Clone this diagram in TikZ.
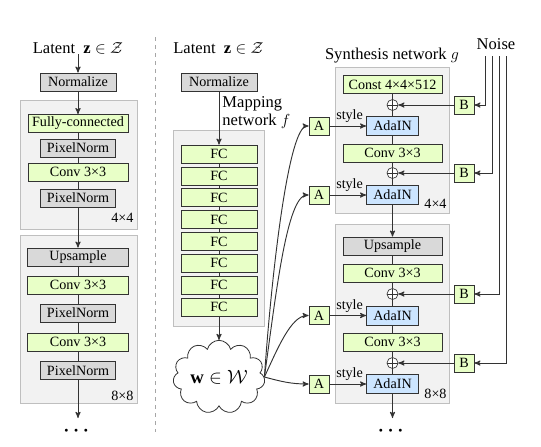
\documentclass[tikz,border=0pt]{standalone}
\usepackage{amsmath}
\usepackage{fontspec}
\setmainfont{Liberation Serif}
\usepackage{tikz}
\usetikzlibrary{calc, math}
\usetikzlibrary{arrows}
\usetikzlibrary{shapes.symbols}
\definecolor{blockcolor}{gray}{0.95}
\definecolor{blockedge}{gray}{0.75}
\definecolor{normcolor}{gray}{0.85}
\definecolor{convcolor}{rgb}{0.91,1,0.78}
\definecolor{adacolor}{rgb}{0.8,0.9,1}
\definecolor{linecolor}{gray}{0.2}

\begin{document}
\begin{tikzpicture}[x=0.75pt, y=-0.75pt, >=stealth', line width=0.7pt,
  font=\fontsize{10.6}{13}\selectfont,
  box/.style={draw=linecolor, line width=0.5pt, inner sep=0pt, minimum height=13.5pt},
  normbox/.style={box, fill=normcolor},
  convbox/.style={box, fill=convcolor},
  adabox/.style={box, fill=adacolor, minimum width=39pt, minimum height=14pt},
  tinybox/.style={convbox, minimum width=15pt},
  block/.style={draw=blockedge, fill=blockcolor},
  flow/.style={draw=linecolor},
  plus/.style={circle, draw=linecolor, line width=0.5pt, fill=white, inner sep=0pt, minimum size=8.25pt,
    path picture={\draw[linecolor, line width=0.5pt]
      (path picture bounding box.north) -- (path picture bounding box.south)
      (path picture bounding box.west) -- (path picture bounding box.east);}},
  title/.style={inner sep=0pt, anchor=base, font=\fontsize{12.4}{13.5}\selectfont},
  etc/.style={font=\fontsize{15}{15}\selectfont, inner sep=0pt}]
  \tikzmath{
    \xl=78;
    \xm=219;
    \xs=392.5;
    \xa=319;
    \xb=464;
  }
  \useasboundingbox (0,0) rectangle (541,446);

  % Traditional generator
  \draw[block] (20,100) rectangle (137,229);
  \draw[block] (20,235) rectangle (137,403);
  \node[title] (latl) at (\xl,53) {Latent\enspace$\mathbf{z}\in\mathcal{Z}$};
  \node[normbox, minimum width=57pt] (norml) at (\xl,82) {Normalize};
  \node[convbox, minimum width=75pt] (fcl) at (\xl,123.5) {Fully-connected};
  \node[normbox, minimum width=56pt] (pnl1) at (\xl,148) {PixelNorm};
  \node[convbox, minimum width=75pt] (convl1) at (\xl,172) {Conv 3×3};
  \node[normbox, minimum width=56pt] (pnl2) at (\xl,198) {PixelNorm};
  \node[normbox, minimum width=76pt] (upl) at (\xl,257) {Upsample};
  \node[convbox, minimum width=76pt] (convl2) at (\xl,285) {Conv 3×3};
  \node[normbox, minimum width=56pt] (pnl3) at (\xl,313) {PixelNorm};
  \node[convbox, minimum width=76pt] (convl3) at (\xl,342) {Conv 3×3};
  \node[normbox, minimum width=56pt] (pnl4) at (\xl,370.5) {PixelNorm};
  \coordinate (endl) at (\xl,418);
  \node[etc] (dotsl) at (\xl,431) {$\boldsymbol{\cdots}$};
  \node[inner sep=0pt, anchor=base east] (resl1) at (134,222) {4×4};
  \node[inner sep=0pt, anchor=base east] (resl2) at (134,400) {8×8};

  \draw[flow,->] (latl) -- (norml);
  \draw[flow,->] (norml) -- (fcl);
  \draw[flow] (fcl) -- (pnl1) (pnl1) -- (convl1) (convl1) -- (pnl2);
  \draw[flow,->] (pnl2) -- (upl);
  \draw[flow] (upl) -- (convl2) (convl2) -- (pnl3) (pnl3) -- (convl3) (convl3) -- (pnl4);
  \draw[flow,->] (pnl4) -- (endl);

  \draw[dashed, gray!70, line width=0.6pt] (155,37) -- (155,432);

  % Mapping network
  \draw[block] (173,130) rectangle (264,326);
  \node[title] (latm) at (218.5,53) {Latent\enspace$\mathbf{z}\in\mathcal{Z}$};
  \node[normbox, minimum width=57pt] (normm) at (\xm,82) {Normalize};
  \node[anchor=north west, align=left, inner sep=0pt, font=\fontsize{12.4}{13.5}\selectfont]
    (mapname) at (222,96) {Mapping\\network $f$};
  \foreach \i in {1,...,8}
    \node[convbox, minimum width=57pt] (fc\i) at (\xm,{154+21.86*(\i-1)}) {FC};
  \foreach \i [remember=\i as \j (initially 1)] in {2,...,8}
    \draw[flow] (fc\j) -- (fc\i);
  \node[cloud, cloud puffs=11, aspect=1.4, draw=linecolor, fill=white, inner sep=0pt,
    line width=0.6pt, minimum width=69pt, minimum height=52pt, font=\fontsize{14}{16}\selectfont]
    (wlat) at (\xm,377) {$\mathbf{w}\in\mathcal{W}$};
  \draw[flow,->] (normm) -- (fc1);
  \draw[flow,->] (fc8) -- (wlat);

  % Synthesis network
  \draw[block] (335,67) rectangle (449,213);
  \draw[block] (335,224) rectangle (449,403);
  \node[title] (synname) at (392,59) {Synthesis network $g$};
  \node[title] (noise) at (496,49) {Noise};
  \node[convbox, minimum width=74pt] (const) at (\xs,84.5) {Const 4×4×512};
  \node[plus] (add1) at (\xs,105) {};
  \node[adabox] (ada1) at (\xs,126) {AdaIN};
  \node[convbox, minimum width=74pt] (convs1) at (\xs,153) {Conv 3×3};
  \node[plus] (add2) at (\xs,173) {};
  \node[adabox] (ada2) at (\xs,195) {AdaIN};
  \node[normbox, minimum width=74pt] (ups) at (\xs,246) {Upsample};
  \node[convbox, minimum width=74pt] (convs2) at (\xs,273) {Conv 3×3};
  \node[plus] (add3) at (\xs,294) {};
  \node[adabox] (ada3) at (\xs,315.5) {AdaIN};
  \node[convbox, minimum width=74pt] (convs3) at (\xs,342) {Conv 3×3};
  \node[plus] (add4) at (\xs,363) {};
  \node[adabox] (ada4) at (\xs,384) {AdaIN};
  \coordinate (ends) at (\xs,418);
  \node[etc] (dotss) at (\xs,431) {$\boldsymbol{\cdots}$};
  \node[inner sep=0pt, anchor=base east] (ress1) at (447,208) {4×4};
  \node[inner sep=0pt, anchor=base east] (ress2) at (447,398) {8×8};

  \draw[flow] (const) -- (add1) (add1) -- (ada1) (ada1) -- (convs1) (convs1) -- (add2) (add2) -- (ada2);
  \draw[flow,->] (ada2) -- (ups);
  \draw[flow] (ups) -- (convs2) (convs2) -- (add3) (add3) -- (ada3) (ada3) -- (convs3) (convs3) -- (add4) (add4) -- (ada4);
  \draw[flow,->] (ada4) -- (ends);

  % Styles and noise inputs
  \foreach \i/\y in {1/126, 2/195, 3/315.5, 4/384} {
    \node[tinybox] (a\i) at (\xa,\y) {A};
    \draw[flow,->] (a\i) -- node[above=1pt, inner sep=1pt, pos=0.55] {style} (ada\i);
  }
  \foreach \i/\y/\xn in {1/105/485, 2/173/492, 3/294/499, 4/363/506} {
    \node[tinybox] (b\i) at (\xb,\y) {B};
    \coordinate (n\i) at (\xn,56);
    \draw[flow,->] (n\i) |- (b\i);
    \draw[flow,->] (b\i) -- (add\i);
  }
  \coordinate (wout) at (wlat.east);
  \draw[flow,->] (wout) to[out=86, in=180, out looseness=1.1, in looseness=0.2] (a1);
  \draw[flow,->] (wout) to[out=82, in=180, out looseness=1.1, in looseness=0.3] (a2);
  \draw[flow,->] (wout) to[out=65, in=180, in looseness=0.6] (a3);
  \draw[flow,->] (wout) to[out=-15, in=180] (a4);
\end{tikzpicture}
\end{document}
